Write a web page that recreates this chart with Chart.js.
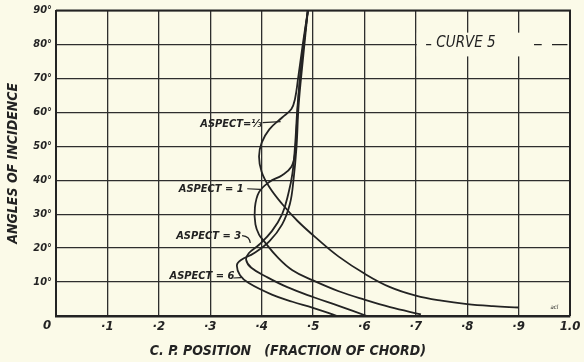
<!DOCTYPE html>
<html>
<head>
<meta charset="utf-8">
<script src="https://cdn.jsdelivr.net/npm/chart.js@4/dist/chart.umd.min.js"></script>
<style>
  html, body { margin: 0; padding: 0; background: #fbfae8; }
  #wrap { width: 584px; height: 362px; }
</style>
</head>
<body>
<div id="wrap"><canvas id="cpChart" width="584" height="362"></canvas></div>
<script>
// Tick labels
const xTickLabels = ['0', '·1', '·2', '·3', '·4', '·5', '·6', '·7', '·8', '·9', '1.0'];
const yTickLabels = ['', '10°', '20°', '30°', '40°', '50°', '60°', '70°', '80°', '90°'];

// C.P. position (fraction of chord) vs angle of incidence
const aspect13X = [0.49, 0.48, 0.471, 0.465, 0.458, 0.44, 0.415, 0.40, 0.395, 0.40, 0.415, 0.44, 0.47, 0.51, 0.55, 0.60, 0.65, 0.70, 0.75, 0.80, 0.85, 0.90];
const aspect13Y = [90, 80, 70, 64, 61, 58.5, 55, 51, 47, 42.5, 38, 33, 28, 22.5, 17.5, 12.5, 8.5, 6, 4.5, 3.5, 2.9, 2.5];

const aspect1X = [0.49, 0.48, 0.472, 0.468, 0.465, 0.458, 0.44, 0.415, 0.395, 0.387, 0.388, 0.395, 0.405, 0.43, 0.46, 0.50, 0.55, 0.60, 0.65, 0.71];
const aspect1Y = [90, 78, 65, 55, 48, 44, 41.5, 39.5, 36.5, 32, 27, 24, 22, 17.5, 13.5, 10.5, 7.3, 4.8, 2.6, 0.5];

const aspect3X = [0.49, 0.478, 0.47, 0.465, 0.46, 0.452, 0.44, 0.42, 0.395, 0.375, 0.37, 0.38, 0.41, 0.45, 0.50, 0.55, 0.605];
const aspect3Y = [90, 75, 62, 50, 42, 36, 30, 25, 21, 18.5, 16.5, 14.2, 11.5, 8.5, 5.6, 3, 0];

const aspect6X = [0.49, 0.48, 0.472, 0.468, 0.462, 0.455, 0.44, 0.415, 0.385, 0.36, 0.352, 0.358, 0.375, 0.42, 0.46, 0.50, 0.547];
const aspect6Y = [90, 75, 62, 50, 40, 33, 27, 22, 18.5, 16.5, 15, 12, 9.7, 6.3, 4.2, 2.4, 0];

function toPoints(xs, ys) {
    return xs.map((x, i) => ({ x: x, y: ys[i] }));
}

const ink = '#232323';
const paper = '#fbfae8';
const hand = '"DejaVu Sans Condensed", "DejaVu Sans", sans-serif';

// paper background, frame and hand lettering
const platePlugin = {
    id: 'plate',
    beforeDraw(chart) {
        const ctx = chart.ctx;
        ctx.save();
        ctx.fillStyle = paper;
        ctx.fillRect(0, 0, chart.width, chart.height);
        ctx.restore();
    },
    beforeDatasetsDraw(chart) {
        const ctx = chart.ctx;
        const a = chart.chartArea;
        ctx.save();
        ctx.strokeStyle = ink;
        ctx.lineWidth = 2;
        ctx.beginPath();
        ctx.moveTo(a.left, a.top);
        ctx.lineTo(a.right, a.top);
        ctx.lineTo(a.right, a.bottom);
        ctx.stroke();
        ctx.restore();
    },
    afterDatasetsDraw(chart) {
        const ctx = chart.ctx;
        const xs = chart.scales.x;
        const ys = chart.scales.y;
        const px = v => xs.getPixelForValue(v);
        const py = v => ys.getPixelForValue(v);
        ctx.save();
        ctx.fillStyle = ink;
        ctx.strokeStyle = ink;
        ctx.lineWidth = 1.2;
        ctx.textBaseline = 'middle';
        ctx.font = 'italic bold 11px ' + hand;

        // aspect labels with leaders
        ctx.textAlign = 'right';
        ctx.fillText('ASPECT=⅓', px(0.4), py(56.5));
        ctx.beginPath();
        ctx.moveTo(px(0.402), py(57));
        ctx.lineTo(px(0.437), py(57.3));
        ctx.stroke();

        ctx.fillText('ASPECT = 1', px(0.365), py(37.5));
        ctx.beginPath();
        ctx.moveTo(px(0.372), py(37.5));
        ctx.lineTo(px(0.397), py(37.3));
        ctx.stroke();

        ctx.fillText('ASPECT = 3', px(0.36), py(23.5));
        ctx.beginPath();
        ctx.moveTo(px(0.362), py(23.7));
        ctx.quadraticCurveTo(px(0.377), py(23.5), px(0.378), py(21.5));
        ctx.stroke();

        ctx.fillText('ASPECT = 6', px(0.347), py(11.6));
        ctx.beginPath();
        ctx.moveTo(px(0.345), py(11.2));
        ctx.lineTo(px(0.36), py(11.3));
        ctx.stroke();

        // title block over the 80° line
        ctx.fillStyle = paper;
        ctx.fillRect(px(0.702), py(83.5), px(1.0) - px(0.702) - 1, py(76.5) - py(83.5));
        ctx.fillStyle = ink;
        ctx.lineWidth = 1.3;
        ctx.beginPath();
        ctx.moveTo(px(0.72), py(80)); ctx.lineTo(px(0.73), py(80));
        ctx.moveTo(px(0.93), py(80)); ctx.lineTo(px(0.945), py(80));
        ctx.moveTo(px(0.965), py(80)); ctx.lineTo(px(0.995), py(80));
        ctx.stroke();
        ctx.textAlign = 'left';
        ctx.font = 'italic 15px ' + hand;
        ctx.fillText('CURVE 5', px(0.74), py(80.4));

        ctx.font = 'italic 6px ' + hand;
        ctx.fillText('acl', px(0.962), py(2.5));

        // origin label and x-axis title
        ctx.font = 'italic bold 13px ' + hand;
        ctx.textAlign = 'center';
        ctx.fillText(xTickLabels[0], px(0) - 9, ys.bottom + 10);
        ctx.font = 'italic bold 14px ' + hand;
        ctx.fillText('C. P. POSITION   (FRACTION OF CHORD)', px(0.451), ys.bottom + 35);
        ctx.restore();
    }
};

const curveStyle = {
    showLine: true,
    borderColor: ink,
    borderWidth: 1.8,
    pointRadius: 0,
    tension: 0.4,
    fill: false
};

new Chart(document.getElementById('cpChart'), {
    type: 'scatter',
    data: {
        datasets: [
            Object.assign({ label: 'Aspect 1/3', data: toPoints(aspect13X, aspect13Y) }, curveStyle),
            Object.assign({ label: 'Aspect 1', data: toPoints(aspect1X, aspect1Y) }, curveStyle),
            Object.assign({ label: 'Aspect 3', data: toPoints(aspect3X, aspect3Y) }, curveStyle),
            Object.assign({ label: 'Aspect 6', data: toPoints(aspect6X, aspect6Y) }, curveStyle)
        ]
    },
    options: {
        responsive: false,
        animation: false,
        devicePixelRatio: 1,
        layout: { padding: { top: 10, right: 14, left: 0, bottom: 0 } },
        plugins: {
            legend: { display: false },
            tooltip: { enabled: false }
        },
        scales: {
            x: {
                type: 'linear',
                min: 0,
                max: 1,
                afterFit(scale) { scale.height = 46; },
                ticks: {
                    stepSize: 0.1,
                    autoSkip: false,
                    maxRotation: 0,
                    padding: 3,
                    color: ink,
                    font: { family: hand, size: 13, style: 'italic', weight: 'bold' },
                    callback: (v, i) => (i === 0 ? '' : xTickLabels[i])
                },
                grid: { color: '#2e2e2e', lineWidth: 1.3, drawTicks: false },
                border: { color: ink, width: 2.6 }
            },
            y: {
                type: 'linear',
                min: 0,
                max: 90,
                afterFit(scale) { scale.width = 56; },
                ticks: {
                    stepSize: 10,
                    autoSkip: false,
                    padding: 4,
                    color: ink,
                    font: { family: hand, size: 11, style: 'italic', weight: 'bold' },
                    callback: (v, i) => yTickLabels[i]
                },
                grid: { color: '#2e2e2e', lineWidth: 1.3, drawTicks: false },
                border: { color: ink, width: 2 },
                title: {
                    display: true,
                    text: 'ANGLES OF INCIDENCE',
                    color: ink,
                    padding: { top: 5, bottom: 2 },
                    font: { family: hand, size: 14, style: 'italic', weight: 'bold' }
                }
            }
        }
    },
    plugins: [platePlugin]
});
</script>
</body>
</html>
